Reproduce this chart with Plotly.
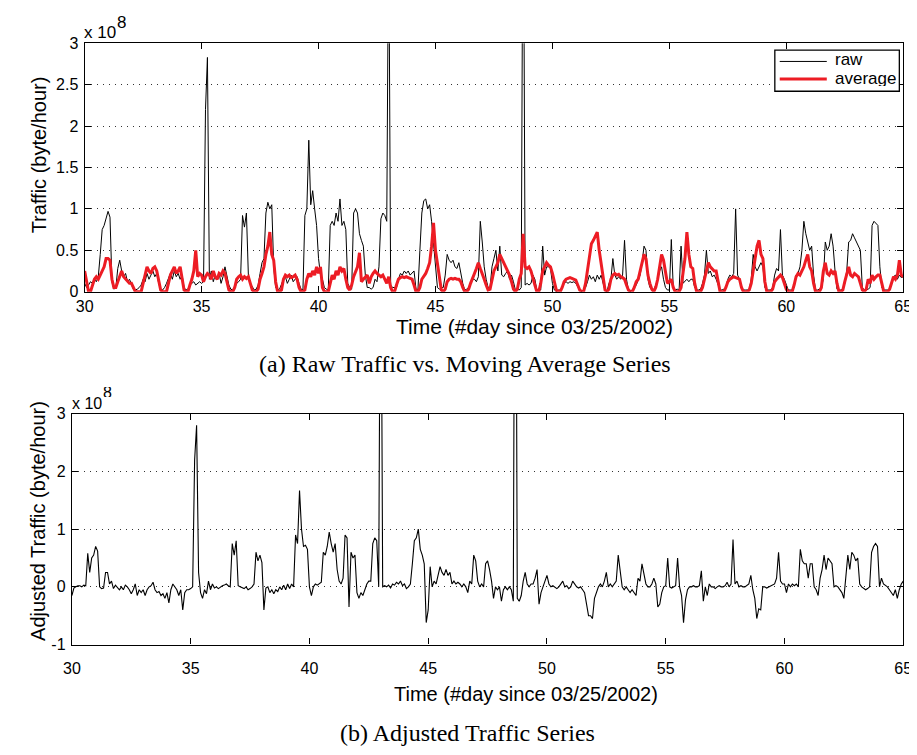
import plotly.graph_objects as go

# ---------------- data (units of 1e8 byte/hour), sampled every 2 hours from day 30 to day 65 ----------------
start_day = 30
samples_per_day = 12

raw_traffic = [
    0.10, 0.05, 0.08, 0.12, 0.10, 0.15, 0.12, 0.18, 0.45, 0.75, 0.80, 0.88,   # 30
    0.97, 0.90, 0.12, 0.03, 0.05, 0.28, 0.38, 0.25, 0.18, 0.22, 0.12, 0.15,   # 31
    0.10, 0.03, 0.02, 0.03, 0.05, 0.08, 0.15, 0.12, 0.22, 0.15, 0.20, 0.25,   # 32
    0.18, 0.22, 0.10, 0.03, 0.02, 0.05, 0.10, 0.15, 0.22, 0.15, 0.25, 0.18,   # 33
    0.22, 0.15, 0.20, 0.05, 0.02, 0.03, 0.08, 0.10, 0.12, 0.08, 0.10, 0.12,   # 34
    0.10, 0.12, 2.20, 2.83, 0.15, 0.25, 0.12, 0.20, 0.15, 0.22, 0.10, 0.18,   # 35
    0.30, 0.20, 0.08, 0.03, 0.02, 0.05, 0.10, 0.12, 0.15, 0.92, 0.78, 0.95,   # 36
    0.20, 0.10, 0.05, 0.02, 0.03, 0.08, 0.22, 0.35, 0.40, 0.95, 1.08, 1.00,   # 37
    1.05, 0.30, 0.05, 0.02, 0.03, 0.10, 0.15, 0.18, 0.10, 0.15, 0.20, 0.12,   # 38
    0.15, 0.18, 0.10, 0.03, 0.02, 0.92, 1.00, 1.83, 1.05, 1.22, 1.00, 0.80,   # 39
    0.40, 0.20, 0.15, 0.05, 0.03, 0.02, 0.80, 0.85, 0.80, 0.95, 0.85, 1.12,   # 40
    0.80, 0.85, 0.75, 0.10, 0.05, 0.03, 0.95, 1.00, 0.95, 0.70, 0.62, 0.55,   # 41
    0.20, 0.05, 0.05, 0.03, 0.05, 0.15, 0.12, 0.30, 0.88, 0.95, 0.92, 0.85,   # 42
    4.60, 0.08, 0.05, 0.05, 0.05, 0.15, 0.22, 0.20, 0.25, 0.22, 0.25, 0.20,   # 43
    0.22, 0.25, 0.03, 0.02, 0.50, 0.95, 1.10, 1.12, 1.00, 1.05, 0.85, 0.60,   # 44
    0.30, 0.05, 0.03, 0.05, 0.05, 0.20, 0.45, 0.38, 0.35, 0.38, 0.30, 0.28,   # 45
    0.35, 0.20, 0.10, 0.02, 0.03, 0.05, 0.10, 0.15, 0.15, 0.12, 0.18, 0.85,   # 46
    0.60, 0.30, 0.15, 0.05, 0.05, 0.30, 0.40, 0.50, 0.25, 0.55, 0.20, 0.18,   # 47
    0.22, 0.25, 0.15, 0.20, 0.12, 0.02, 0.03, 0.02, 0.05, 5.70, 0.08, 0.10,   # 48
    0.08, 0.10, 0.20, 0.15, 0.02, 0.03, 0.02, 0.55, 0.20, 0.30, 0.30, 0.28,   # 49
    0.10, 0.02, 0.00, 0.02, 0.02, 0.05, 0.10, 0.12, 0.10, 0.12, 0.11, 0.12,   # 50
    0.10, 0.05, 0.02, 0.00, 0.02, 0.05, 0.12, 0.20, 0.15, 0.18, 0.12, 0.20,   # 51
    0.15, 0.20, 0.10, 0.02, 0.00, 0.10, 0.15, 0.40, 0.20, 0.15, 0.18, 0.15,   # 52
    0.20, 0.62, 0.15, 0.02, 0.00, 0.02, 0.05, 0.08, 0.15, 0.20, 0.35, 0.55,   # 53
    0.50, 0.15, 0.05, 0.03, 0.02, 0.08, 0.15, 0.25, 0.30, 0.15, 0.05, 0.02,   # 54
    0.02, 0.63, 0.05, 0.02, 0.03, 0.02, 0.55, 0.10, 0.12, 0.15, 0.12, 0.15,   # 55
    0.15, 0.05, 0.02, 0.02, 0.03, 0.10, 0.20, 0.50, 0.22, 0.25, 0.18, 0.20,   # 56
    0.15, 0.08, 0.02, 0.02, 0.03, 0.05, 0.15, 0.20, 0.18, 0.22, 1.00, 0.20,   # 57
    0.15, 0.05, 0.02, 0.02, 0.02, 0.03, 0.15, 0.45, 0.30, 0.25, 0.30, 0.35,   # 58
    0.30, 0.05, 0.02, 0.02, 0.02, 0.05, 0.20, 0.28, 0.25, 0.75, 0.20, 0.15,   # 59
    0.08, 0.02, 0.02, 0.02, 0.05, 0.20, 0.22, 0.30, 0.50, 0.85, 0.70, 0.60,   # 60
    0.50, 0.55, 0.20, 0.02, 0.02, 0.03, 0.05, 0.15, 0.60, 0.50, 0.55, 0.70,   # 61
    0.55, 0.25, 0.03, 0.02, 0.02, 0.03, 0.10, 0.25, 0.60, 0.62, 0.70, 0.65,   # 62
    0.60, 0.55, 0.50, 0.05, 0.02, 0.02, 0.03, 0.05, 0.80, 0.85, 0.83, 0.80,   # 63
    0.30, 0.05, 0.02, 0.02, 0.02, 0.03, 0.12, 0.18, 0.20, 0.15, 0.20, 0.17,   # 64
    0.18,                                                                     # 65
]

moving_average = [
    0.25, 0.12, 0.00, 0.00, 0.08, 0.15, 0.18, 0.15, 0.20, 0.25, 0.30, 0.40,   # 30
    0.40, 0.38, 0.15, 0.05, 0.05, 0.12, 0.20, 0.25, 0.18, 0.15, 0.12, 0.10,   # 31
    0.10, 0.05, 0.00, 0.00, 0.00, 0.00, 0.10, 0.22, 0.30, 0.25, 0.22, 0.28,   # 32
    0.30, 0.25, 0.12, 0.02, 0.00, 0.00, 0.00, 0.10, 0.20, 0.25, 0.30, 0.22,   # 33
    0.25, 0.30, 0.15, 0.02, 0.00, 0.00, 0.08, 0.15, 0.25, 0.50, 0.18, 0.22,   # 34
    0.20, 0.12, 0.18, 0.22, 0.20, 0.15, 0.25, 0.18, 0.15, 0.22, 0.20, 0.25,   # 35
    0.22, 0.10, 0.02, 0.00, 0.00, 0.05, 0.15, 0.18, 0.20, 0.15, 0.18, 0.16,   # 36
    0.18, 0.10, 0.02, 0.00, 0.00, 0.03, 0.15, 0.22, 0.30, 0.45, 0.55, 0.72,   # 37
    0.45, 0.38, 0.12, 0.00, 0.00, 0.02, 0.15, 0.20, 0.18, 0.20, 0.17, 0.18,   # 38
    0.20, 0.15, 0.05, 0.00, 0.00, 0.02, 0.15, 0.22, 0.18, 0.25, 0.20, 0.30,   # 39
    0.22, 0.30, 0.05, 0.00, 0.00, 0.00, 0.10, 0.20, 0.15, 0.25, 0.20, 0.30,   # 40
    0.25, 0.28, 0.15, 0.05, 0.02, 0.08, 0.18, 0.25, 0.30, 0.47, 0.12, 0.15,   # 41
    0.18, 0.20, 0.10, 0.18, 0.22, 0.25, 0.22, 0.20, 0.18, 0.20, 0.15, 0.10,   # 42
    0.18, 0.05, 0.00, 0.00, 0.08, 0.15, 0.17, 0.18, 0.17, 0.18, 0.17, 0.16,   # 43
    0.15, 0.08, 0.00, 0.00, 0.05, 0.15, 0.18, 0.22, 0.28, 0.35, 0.55, 0.83,   # 44
    0.50, 0.35, 0.20, 0.02, 0.00, 0.03, 0.12, 0.15, 0.16, 0.15, 0.16, 0.15,   # 45
    0.15, 0.12, 0.05, 0.00, 0.00, 0.03, 0.10, 0.15, 0.22, 0.28, 0.35, 0.28,   # 46
    0.20, 0.15, 0.08, 0.02, 0.03, 0.15, 0.25, 0.30, 0.35, 0.45, 0.40, 0.35,   # 47
    0.30, 0.25, 0.20, 0.12, 0.03, 0.00, 0.03, 0.15, 0.22, 0.70, 0.30, 0.28,   # 48
    0.30, 0.25, 0.15, 0.08, 0.00, 0.00, 0.10, 0.25, 0.30, 0.35, 0.32, 0.30,   # 49
    0.22, 0.12, 0.02, 0.00, 0.00, 0.05, 0.12, 0.15, 0.16, 0.17, 0.16, 0.15,   # 50
    0.14, 0.08, 0.02, 0.00, 0.00, 0.10, 0.25, 0.38, 0.58, 0.62, 0.68, 0.72,   # 51
    0.50, 0.35, 0.15, 0.02, 0.00, 0.03, 0.15, 0.20, 0.22, 0.20, 0.21, 0.18,   # 52
    0.17, 0.15, 0.08, 0.02, 0.00, 0.00, 0.05, 0.12, 0.15, 0.25, 0.35, 0.45,   # 53
    0.40, 0.20, 0.10, 0.03, 0.00, 0.05, 0.15, 0.30, 0.45, 0.38, 0.25, 0.10,   # 54
    0.12, 0.15, 0.05, 0.00, 0.00, 0.00, 0.05, 0.20, 0.40, 0.72, 0.45, 0.30,   # 55
    0.28, 0.10, 0.00, 0.00, 0.00, 0.05, 0.15, 0.25, 0.35, 0.30, 0.28, 0.25,   # 56
    0.25, 0.10, 0.00, 0.00, 0.00, 0.05, 0.12, 0.15, 0.17, 0.18, 0.17, 0.16,   # 57
    0.15, 0.05, 0.00, 0.00, 0.00, 0.02, 0.10, 0.25, 0.40, 0.55, 0.62, 0.45,   # 58
    0.40, 0.12, 0.00, 0.00, 0.00, 0.03, 0.12, 0.15, 0.18, 0.20, 0.17, 0.10,   # 59
    0.03, 0.00, 0.00, 0.00, 0.08, 0.18, 0.22, 0.20, 0.25, 0.30, 0.38, 0.45,   # 60
    0.30, 0.25, 0.10, 0.00, 0.00, 0.00, 0.05, 0.25, 0.35, 0.22, 0.20, 0.25,   # 61
    0.22, 0.25, 0.10, 0.00, 0.00, 0.02, 0.12, 0.22, 0.30, 0.20, 0.18, 0.22,   # 62
    0.20, 0.18, 0.10, 0.02, 0.00, 0.03, 0.15, 0.10, 0.20, 0.15, 0.18, 0.20,   # 63
    0.20, 0.08, 0.00, 0.00, 0.00, 0.03, 0.12, 0.18, 0.15, 0.20, 0.38, 0.20,   # 64
    0.18,                                                                     # 65
]

adjusted_traffic = [
    -0.15, -0.02, 0.00, 0.02, 0.02, 0.00, 0.03, 0.02, 0.58, 0.25, 0.50, 0.55,      # 30
    0.70, 0.62, 0.00, -0.03, -0.02, 0.25, 0.25, 0.05, 0.10, -0.03, 0.03, -0.02,    # 31
    -0.05, 0.00, -0.05, 0.03, 0.00, -0.05, -0.12, -0.05, 0.05, -0.15, -0.05, -0.10,  # 32
    -0.05, -0.15, -0.05, 0.00, 0.02, 0.08, -0.05, -0.10, -0.08, -0.15, -0.12, -0.20,  # 33
    -0.10, -0.28, -0.05, 0.05, 0.00, -0.05, -0.15, -0.05, -0.40, -0.10, -0.05, -0.05,  # 34
    -0.03, 0.00, 2.20, 2.80, 0.25, -0.10, -0.20, -0.05, -0.12, 0.10, -0.05, 0.05,   # 35
    -0.02, 0.00, -0.03, 0.00, 0.02, 0.03, 0.05, 0.02, 0.00, 0.75, 0.55, 0.80,      # 36
    0.02, 0.00, -0.02, -0.03, 0.00, -0.05, -0.03, 0.00, 0.05, 0.60, 0.45, 0.55,    # 37
    0.42, -0.40, -0.02, 0.00, -0.10, -0.05, -0.12, -0.05, -0.08, 0.00, -0.05, 0.03,  # 38
    -0.05, 0.05, -0.03, 0.05, 0.00, 0.90, 0.75, 1.67, 1.00, 0.70, 0.72, 0.65,      # 39
    0.00, -0.15, 0.00, 0.05, 0.03, 0.05, 0.08, 0.60, 0.55, 0.70, 0.95, 0.75,       # 40
    0.60, 0.75, 0.30, 0.10, 0.05, 0.15, 0.90, 0.85, -0.35, 0.60, 0.50, 0.55,       # 41
    -0.10, -0.20, -0.10, -0.15, -0.05, 0.05, 0.10, 0.10, 0.75, 0.85, 0.80, 0.00,   # 42
    7.50, 0.00, 0.02, 0.00, 0.03, -0.02, 0.05, 0.03, 0.08, 0.05, 0.10, 0.02,       # 43
    0.05, -0.03, 0.00, 0.05, 0.40, 0.80, 0.85, 1.00, 0.65, 0.55, 0.40, -0.62,      # 44
    -0.40, 0.35, 0.00, 0.10, 0.05, 0.20, 0.35, 0.25, 0.20, 0.30, 0.20, 0.25,       # 45
    0.05, 0.10, 0.05, 0.08, 0.05, 0.00, 0.05, 0.00, -0.10, 0.10, 0.05, 0.55,       # 46
    0.45, 0.10, 0.00, 0.05, 0.00, 0.40, 0.45, 0.30, 0.10, -0.20, 0.00, -0.05,      # 47
    0.00, -0.25, -0.05, 0.00, -0.05, 0.00, -0.05, -0.25, 10.0, -0.20, -0.25, -0.15,  # 48
    0.10, 0.25, 0.05, 0.00, 0.05, 0.05, 0.15, 0.30, -0.30, -0.10, 0.00, 0.10,      # 49
    0.20, 0.05, 0.00, 0.02, 0.00, -0.03, 0.00, 0.05, 0.10, 0.00, 0.02, -0.03,      # 50
    0.00, 0.10, 0.05, 0.00, -0.02, 0.00, -0.05, -0.10, -0.30, -0.50, -0.50, -0.55,  # 51
    -0.20, -0.10, 0.00, 0.05, 0.00, 0.10, 0.25, 0.00, 0.05, 0.00, 0.05, 0.10,      # 52
    0.55, 0.30, 0.00, -0.05, 0.00, -0.05, -0.10, -0.05, -0.10, -0.15, 0.15, 0.10,  # 53
    0.40, 0.20, 0.05, 0.00, 0.00, 0.05, 0.15, 0.05, -0.35, -0.30, -0.10, 0.00,     # 54
    0.02, 0.50, 0.00, -0.02, 0.00, 0.02, 0.50, 0.00, -0.15, -0.62, -0.22, -0.05,   # 55
    0.00, 0.00, 0.02, 0.00, 0.00, 0.02, 0.28, -0.25, 0.00, -0.15, 0.05, 0.00,      # 56
    0.00, -0.03, 0.00, 0.02, 0.00, 0.00, 0.02, 0.08, 0.00, 0.05, 0.82, 0.05,       # 57
    0.10, 0.00, 0.02, 0.00, 0.00, 0.02, 0.05, 0.20, -0.05, -0.20, -0.55, -0.38,    # 58
    -0.40, 0.00, 0.00, -0.02, 0.00, 0.02, 0.03, 0.05, 0.15, 0.60, 0.10, 0.05,      # 59
    0.05, -0.10, 0.05, 0.00, 0.05, 0.02, 0.05, 0.00, 0.65, 0.45, 0.40, 0.40,       # 60
    0.15, 0.40, 0.40, 0.00, -0.05, -0.15, 0.15, 0.30, 0.55, 0.30, 0.50, 0.45,      # 61
    0.40, 0.00, 0.02, 0.00, -0.05, -0.10, -0.20, 0.25, 0.55, 0.30, 0.60, 0.55,     # 62
    0.45, 0.50, 0.05, 0.00, -0.03, -0.05, -0.03, 0.00, 0.60, 0.70, 0.75, 0.70,     # 63
    0.00, 0.15, 0.05, 0.02, 0.00, -0.05, -0.10, -0.15, -0.05, -0.20, -0.05, 0.05,  # 64
    0.10,                                                                          # 65
]

x_tick_values = [30, 35, 40, 45, 50, 55, 60, 65]
x_tick_labels = ["30", "35", "40", "45", "50", "55", "60", "65"]
top_y_ticks = [0, 0.5, 1, 1.5, 2, 2.5, 3]
top_y_labels = ["0", "0.5", "1", "1.5", "2", "2.5", "3"]
bottom_y_ticks = [-1, 0, 1, 2, 3]
bottom_y_labels = ["-1", "0", "1", "2", "3"]

time_days = [start_day + i / samples_per_day for i in range(len(raw_traffic))]

# ---------------- figure ----------------
W, H = 917, 755
RED = "rgb(237,28,36)"
SANS = "Liberation Sans, Arial, sans-serif"
SERIF = "Liberation Serif, Times New Roman, serif"


def px(x):
    return x / W


def py(y):
    return 1 - y / H


fig = go.Figure()
fig.add_trace(go.Scatter(x=time_days, y=raw_traffic, mode="lines", name="raw",
                         line=dict(color="black", width=1), xaxis="x", yaxis="y",
                         showlegend=False, hoverinfo="skip"))
fig.add_trace(go.Scatter(x=time_days, y=moving_average, mode="lines", name="average",
                         line=dict(color=RED, width=3), xaxis="x", yaxis="y",
                         showlegend=False, hoverinfo="skip"))
fig.add_trace(go.Scatter(x=time_days, y=adjusted_traffic, mode="lines", name="adjusted",
                         line=dict(color="black", width=1.1), xaxis="x2", yaxis="y2",
                         showlegend=False, hoverinfo="skip"))

axis_common = dict(ticks="inside", ticklen=6, tickwidth=1, tickcolor="black",
                   showline=True, linecolor="black", linewidth=1.2, mirror="ticks",
                   zeroline=False, tickfont=dict(family=SANS, size=16, color="black"))

fig.update_layout(
    width=W, height=H, autosize=False,
    margin=dict(l=0, r=0, t=0, b=0),
    paper_bgcolor="white", plot_bgcolor="white",
    xaxis=dict(domain=[px(69), px(904)], anchor="y", range=[30, 65],
               tickmode="array", tickvals=x_tick_values, ticktext=x_tick_labels,
               showgrid=False, ticklabelstandoff=0, **axis_common),
    yaxis=dict(domain=[py(282), py(28)], anchor="x", range=[0, 3],
               tickmode="array", tickvals=top_y_ticks, ticktext=top_y_labels,
               showgrid=True, gridcolor="#333333", gridwidth=1, griddash="1px,5px",
               ticklabelstandoff=2, **axis_common),
    xaxis2=dict(domain=[px(56), px(904)], anchor="y2", range=[30, 65],
                tickmode="array", tickvals=x_tick_values, ticktext=x_tick_labels,
                showgrid=False, ticklabelstandoff=9, **axis_common),
    yaxis2=dict(domain=[py(643), py(407)], anchor="x2", range=[-1, 3],
                tickmode="array", tickvals=bottom_y_ticks, ticktext=bottom_y_labels,
                showgrid=True, gridcolor="#333333", gridwidth=1, griddash="1px,5px",
                ticklabelstandoff=2, **axis_common),
)

annotations = [
    # axis titles
    dict(text="Time (#day since 03/25/2002)", x=px(528), y=py(318), xanchor="center", yanchor="middle",
         font=dict(family=SANS, size=21, color="black")),
    dict(text="Time (#day since 03/25/2002)", x=px(519), y=py(694), xanchor="center", yanchor="middle",
         font=dict(family=SANS, size=20, color="black")),
    dict(text="Traffic (byte/hour)", x=px(22), y=py(142), xanchor="center", yanchor="middle",
         textangle=-90, font=dict(family=SANS, size=20, color="black")),
    dict(text="Adjusted Traffic (byte/hour)", x=px(22), y=py(517), xanchor="center", yanchor="middle",
         textangle=-90, font=dict(family=SANS, size=20, color="black")),
    # exponent labels ("x 10" with a raised "8")
    dict(text="x 10", x=px(66), y=py(16), xanchor="left", yanchor="middle", height=16,
         font=dict(family=SANS, size=17, color="black")),
    dict(text="8", x=px(100), y=py(6), xanchor="left", yanchor="middle", height=12,
         font=dict(family=SANS, size=17, color="black")),
    dict(text="x 10", x=px(54), y=py(396), xanchor="left", yanchor="middle", height=15,
         font=dict(family=SANS, size=16, color="black")),
    dict(text="8", x=px(86), y=py(385), xanchor="left", yanchor="middle", height=10,
         font=dict(family=SANS, size=16, color="black")),
    # captions
    dict(text="(a) Raw Traffic vs. Moving Average Series", x=px(457), y=py(356), xanchor="center",
         yanchor="middle", font=dict(family=SERIF, size=24, color="black")),
    dict(text="(b) Adjusted Traffic Series", x=px(460), y=py(734), xanchor="center",
         yanchor="middle", font=dict(family=SERIF, size=24, color="black")),
    # legend labels
    dict(text="raw", x=px(832), y=py(44.5), xanchor="left", yanchor="middle", height=15,
         font=dict(family=SANS, size=17, color="black")),
    dict(text="average", x=px(832), y=py(64), xanchor="left", yanchor="middle", height=15,
         font=dict(family=SANS, size=17, color="black")),
]
for a in annotations:
    a.update(xref="paper", yref="paper", showarrow=False)

shapes = [
    dict(type="rect", xref="paper", yref="paper", x0=px(773), x1=px(900), y0=py(77), y1=py(35),
         line=dict(color="black", width=1.3), fillcolor="white", layer="above"),
    dict(type="line", xref="paper", yref="paper", x0=px(778), x1=px(826), y0=py(46.5), y1=py(46.5),
         line=dict(color="black", width=1), layer="above"),
    dict(type="line", xref="paper", yref="paper", x0=px(778), x1=px(826), y0=py(64.5), y1=py(64.5),
         line=dict(color=RED, width=3), layer="above"),
]

fig.update_layout(annotations=annotations, shapes=shapes)
fig.write_html("out.html")
